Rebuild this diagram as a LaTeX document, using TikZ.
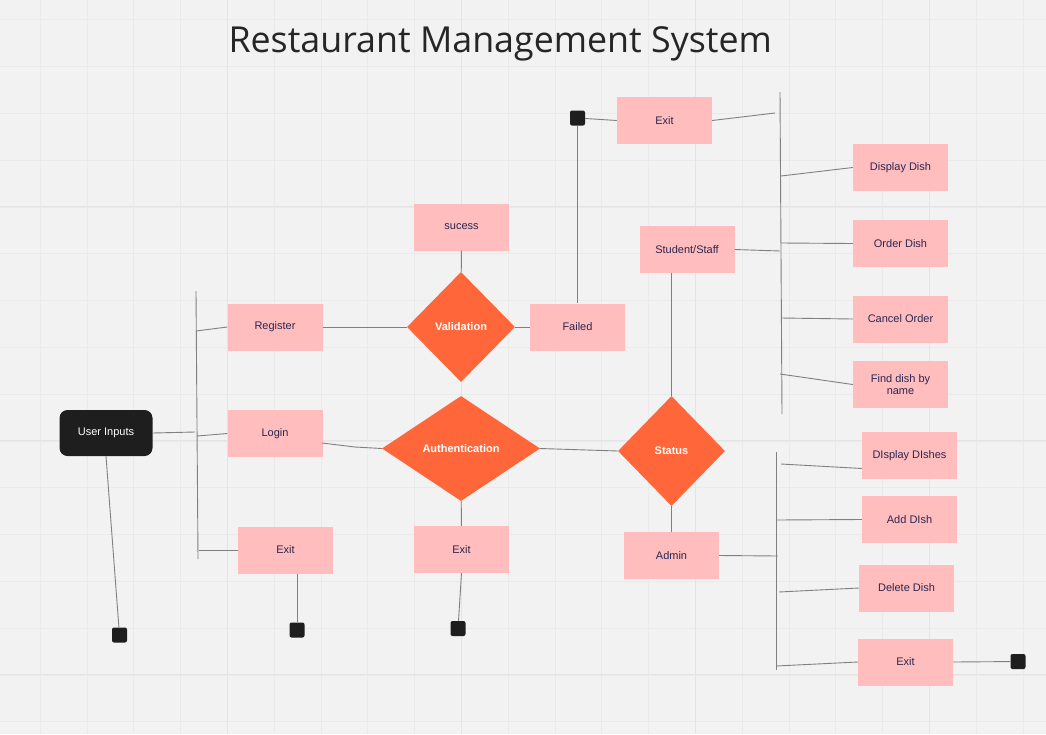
\documentclass[tikz,border=0pt]{standalone}
\usepackage{fontspec}
\setmainfont{Liberation Sans}
\newfontfamily\titlefont{Open Sans}
\usetikzlibrary{shapes.geometric}

\definecolor{canvas}{HTML}{F2F2F2}
\definecolor{gridline}{HTML}{EAEAEA}
\definecolor{gridmajor}{HTML}{E4E4E4}
\definecolor{boxpink}{HTML}{FFBDBD}
\definecolor{diamondorange}{HTML}{FF6639}
\definecolor{boxtext}{HTML}{2B2650}
\definecolor{darkfill}{HTML}{1E1E1E}
\definecolor{linkgray}{HTML}{808080}

\tikzset{
  pinkbox/.style={fill=boxpink, minimum width=95pt, minimum height=47pt, inner sep=2pt,
    text=boxtext, font=\fontsize{11}{12}\selectfont, align=center},
  decision/.style={diamond, fill=diamondorange, inner sep=0pt, text=white,
    font=\bfseries\fontsize{11}{12}\selectfont},
  startbox/.style={fill=darkfill, rounded corners=8pt, minimum width=93pt, minimum height=46pt,
    text=white, font=\fontsize{11}{12}\selectfont},
  endmark/.style={fill=darkfill, rounded corners=2pt, minimum size=15pt, inner sep=0pt},
  link/.style={draw=linkgray, line width=0.9pt},
}

\begin{document}
\begin{tikzpicture}[x=1pt, y=-1pt] % 1pt per pixel, y grows downwards

        % Canvas of 1046 x 734 px
        \useasboundingbox (0,0) rectangle (1046,734);
        \fill[canvas] (0,0) rectangle (1046,734);

        % Background grid, a line every 46.8px and a darker one every fifth
        \foreach \i in {0,...,21} {
            \draw[gridline, line width=0.7pt] (40.2+46.8*\i,0) -- (40.2+46.8*\i,734);
        }
        \foreach \j in {0,...,15} {
            \draw[gridline, line width=0.7pt] (0,19.8+46.8*\j) -- (1046,19.8+46.8*\j);
        }
        \foreach \i in {0,...,3} \draw[gridmajor, line width=0.7pt] (227.4+234*\i,0) -- (227.4+234*\i,734);
        \foreach \j in {0,...,2} \draw[gridmajor, line width=0.7pt] (0,206.8+234*\j) -- (1046,206.8+234*\j);

        % Title
        \node[anchor=base west, text=black!85, font=\titlefont\fontsize{35.8}{40}\selectfont] (title) at (225,52) {Restaurant Management System};

        % Entry, login and validation
        \node[startbox] (userinputs) at (106,433) {User Inputs};
        \node[pinkbox] (register) at (275,327) {Register};
        \node[pinkbox] (login) at (275,433.5) {Login};
        \node[pinkbox] (exitleft) at (285.5,550) {Exit};
        \node[pinkbox] (sucess) at (461.5,227) {sucess};
        \node[decision, minimum width=108pt, minimum height=110pt] (validation) at (461,327) {Validation};
        \node[pinkbox] (failed) at (577.5,327) {Failed};
        \node[decision, minimum width=158pt, minimum height=105pt] (authentication) at (461,448.5) {Authentication};
        \node[pinkbox] (exitmid) at (461.5,549.5) {Exit};
        \node[decision, minimum width=107pt, minimum height=110pt] (status) at (671.5,451) {Status};

        % Student/Staff menu
        \node[pinkbox] (studentstaff) at (687,249.5) {Student/Staff};
        \node[pinkbox] (exittop) at (664.5,120.5) {Exit};
        \node[pinkbox] (displaydish) at (900.5,167.5) {Display Dish};
        \node[pinkbox] (orderdish) at (900.5,243.5) {Order Dish};
        \node[pinkbox] (cancelorder) at (900.5,319) {Cancel Order};
        \node[pinkbox] (findname) at (900.5,384.5) {Find dish by\\name};

        % Admin menu
        \node[pinkbox] (admin) at (671.5,555.5) {Admin};
        \node[pinkbox] (displaydishes) at (909.5,455.5) {DIsplay DIshes};
        \node[pinkbox] (adddish) at (909.5,519.5) {Add DIsh};
        \node[pinkbox] (deletedish) at (906.5,588) {Delete Dish};
        \node[pinkbox] (exitright) at (905.5,662) {Exit};

        % End points
        \node[endmark] (endA) at (119.5,635) {};
        \node[endmark] (endB) at (297,630) {};
        \node[endmark] (endC) at (458,628.5) {};
        \node[endmark] (endD) at (577.5,118) {};
        \node[endmark] (endE) at (1018,661.5) {};

        % Points on the three bars
        \foreach \n/\x/\y in {lbtop/196/291, lbbot/198/559, lb1/196/331, lb2/195/432, lb3/197/436, lb4/199/550,
                              rbtop/780/92, rbbot/782/414, rb0/775/113, rb1/781/176, rb2/781/243, rb3/780/251, rb4/781/318, rb5/780/374,
                              abtop/776/452, abbot/776/670, ab1/781/464, ab2/776/520, ab3/778/556, ab4/779/592, ab5/776/666,
                              loginout/322/443, loginbend/355/447} {
            \coordinate (\n) at (\x,\y);
        }

        % Bars
        \draw[link] (lbtop) -- (lbbot);
        \draw[link] (rbtop) -- (rbbot);
        \draw[link] (abtop) -- (abbot);

        % Connectors
        \draw[link] (userinputs.east) -- (lb2);
        \draw[link] (userinputs.south) -- (endA);
        \draw[link] (lb1) -- (register.west);
        \draw[link] (lb3) -- (login.west);
        \draw[link] (lb4) -- (exitleft.west);
        \draw[link] (exitleft.south -| endB) -- (endB);
        \draw[link] (register) -- (validation);
        \draw[link] (validation) -- (failed);
        \draw[link] (sucess) -- (validation);
        \draw[link] (loginout) -- (loginbend) -- (authentication.west);
        \draw[link] (authentication.east) -- (status.west);
        \draw[link] (authentication) -- (exitmid);
        \draw[link] (exitmid.south) -- (endC);
        \draw[link] (status.north) -- (status.north |- studentstaff.south);
        \draw[link] (status) -- (admin);
        \draw[link] (failed.north) -- (endD);
        \draw[link] (endD) -- (exittop.west);
        \draw[link] (exittop.east) -- (rb0);
        \draw[link] (rb1) -- (displaydish.west);
        \draw[link] (rb2) -- (orderdish.west);
        \draw[link] (studentstaff.east) -- (rb3);
        \draw[link] (rb4) -- (cancelorder.west);
        \draw[link] (rb5) -- (findname.west);
        \draw[link] (ab1) -- ([yshift=-13pt]displaydishes.west);
        \draw[link] (ab2) -- (adddish.west);
        \draw[link] (admin.east) -- (ab3);
        \draw[link] (ab4) -- (deletedish.west);
        \draw[link] (ab5) -- (exitright.west);
        \draw[link] (exitright.east) -- (endE);

    \end{tikzpicture}
\end{document}
